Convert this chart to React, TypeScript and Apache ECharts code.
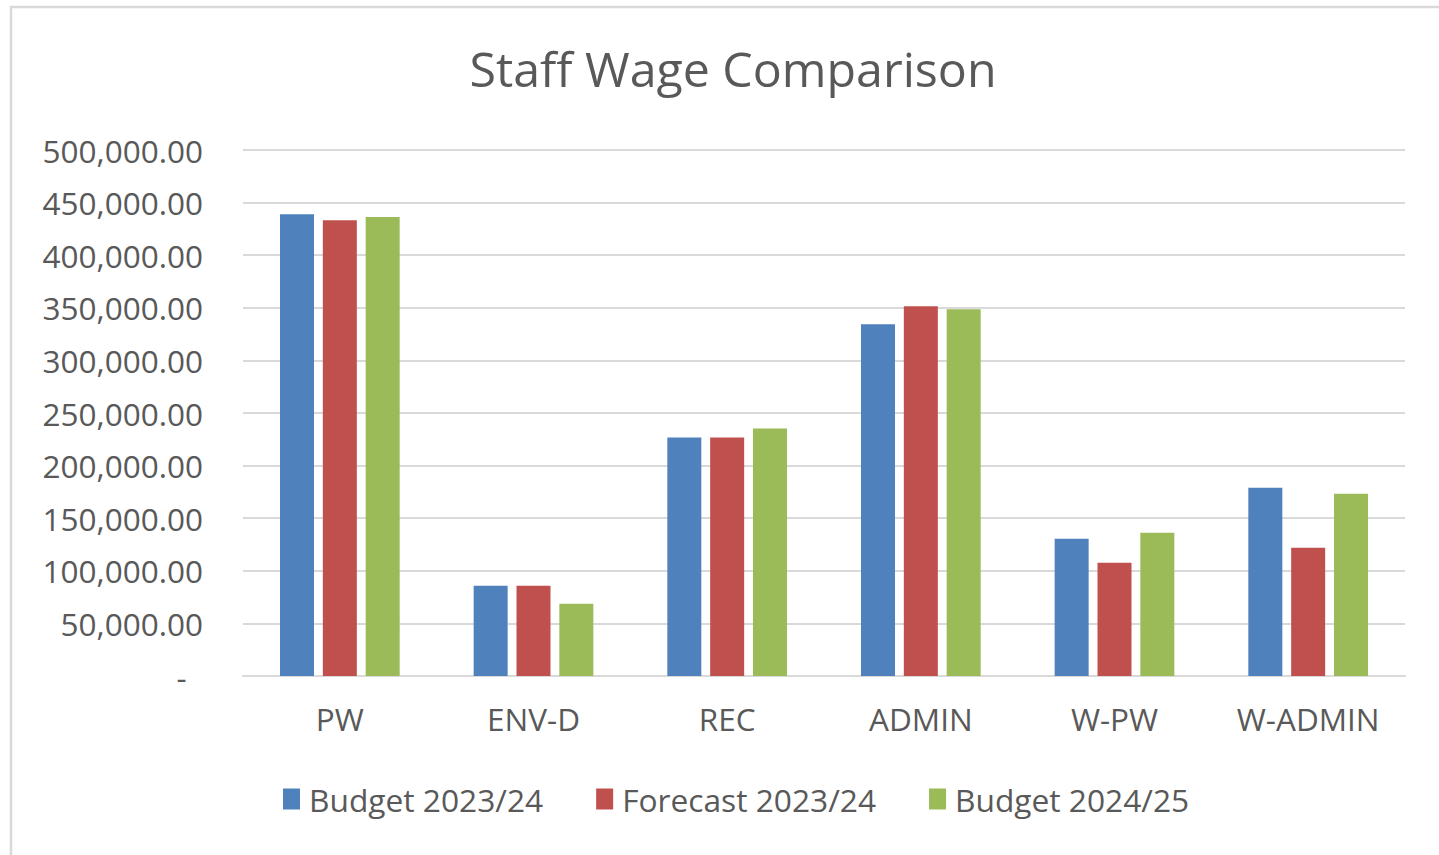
import React, { useEffect, useRef } from "react";
import * as echarts from "echarts";

const categories = ["PW", "ENV-D", "REC", "ADMIN", "W-PW", "W-ADMIN"];
const budget2324 = [439000, 85700, 226700, 334300, 130500, 179000];
const forecast2324 = [433300, 85700, 226700, 351400, 107600, 121900];
const budget2425 = [436200, 68600, 235200, 348600, 136200, 173300];
const seriesNames = ["Budget 2023/24", "Forecast 2023/24", "Budget 2024/25"];
const colors = ["#4F81BD", "#C0504D", "#9BBB59"];

const FONT = "'Open Sans', sans-serif";
const TXT = "#595959";

function fmt(v: number): string {
  if (v === 0) return "-  ";
  return v.toLocaleString("en-US", { minimumFractionDigits: 2, maximumFractionDigits: 2 });
}

export default function App() {
  const ref = useRef<HTMLDivElement>(null);
  useEffect(() => {
    if (!ref.current) return;
    const chart = echarts.init(ref.current, undefined, { renderer: "svg" });
    const data = [budget2324, forecast2324, budget2425];
    chart.setOption({
      animation: false,
      backgroundColor: "#ffffff",
      textStyle: { fontFamily: FONT },
      title: {
        text: "Staff Wage Comparison",
        left: 728,
        textAlign: "center",
        top: 39,
        textStyle: { fontFamily: FONT, fontSize: 48.3, fontWeight: "normal", color: TXT },
      },
      graphic: [
        {
          type: "rect",
          shape: { x: 11, y: 7, width: 1460, height: 880 },
          style: { fill: "none", stroke: "#d9d9d9", lineWidth: 2.5 },
          silent: true,
        },
      ],
      legend: {
        data: seriesNames,
        left: 283,
        top: 783,
        padding: 0,
        itemWidth: 17,
        itemHeight: 21,
        itemGap: 53,
        icon: "rect",
        textStyle: { fontFamily: FONT, fontSize: 31.7, color: TXT, padding: [0, 0, 0, 4] },
      },
      grid: { left: 243, right: 34, top: 150, bottom: 179, containLabel: false },
      xAxis: {
        type: "category",
        data: categories,
        axisLine: { lineStyle: { color: "#d9d9d9", width: 2 } },
        axisTick: { show: false },
        axisLabel: { fontFamily: FONT, fontSize: 31.5, color: TXT, margin: 26 },
      },
      yAxis: {
        type: "value",
        min: 0,
        max: 500000,
        interval: 50000,
        axisLine: { show: false },
        axisTick: { show: false },
        splitLine: { lineStyle: { color: "#d9d9d9", width: 2 } },
        axisLabel: { fontFamily: FONT, fontSize: 31.5, color: TXT, margin: 40, formatter: fmt },
      },
      series: seriesNames.map((name, i) => ({
        name,
        type: "bar",
        data: data[i],
        barWidth: 34,
        barGap: "26%",
        itemStyle: { color: colors[i] },
      })),
    });
    return () => chart.dispose();
  }, []);
  return <div ref={ref} style={{ position: "fixed", left: 0, top: 0, width: 1439, height: 855 }} />;
}
